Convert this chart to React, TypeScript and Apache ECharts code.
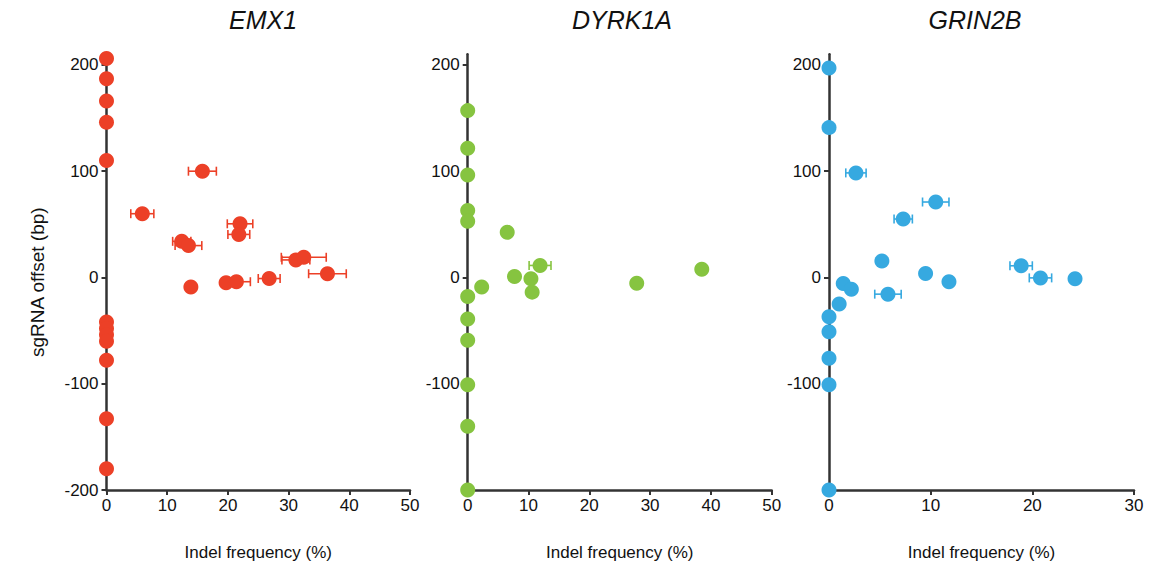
import React, { useEffect, useRef } from "react";
import * as echarts from "echarts";

// [indel frequency %, sgRNA offset bp, error (±%)]
const emx1Data: number[][] = [
  [0, 206, 0], [0, 187, 0], [0, 166, 0], [0, 146, 0], [0, 110, 0],
  [0, -42, 0], [0, -48, 0], [0, -54, 0], [0, -60, 0], [0, -78, 0], [0, -133, 0], [0, -180, 0],
  [15.8, 100, 2.3], [5.9, 60, 1.9], [12.4, 34, 1.5], [13.5, 30, 2.2],
  [22, 50.5, 2.1], [21.8, 40.5, 1.8], [13.9, -9, 0], [19.7, -5, 0],
  [21.4, -4, 2.3], [26.8, -1, 1.8], [31.2, 16.5, 2.3], [32.5, 19, 3.7], [36.4, 3.5, 3.1],
];
const dyrk1aData: number[][] = [
  [0, 157, 0], [0, 121.5, 0], [0, 96.5, 0], [0, 63, 0], [0, 53, 0],
  [0, -18, 0], [0, -39, 0], [0, -59, 0], [0, -101, 0], [0, -140, 0], [0, -200, 0],
  [6.5, 42.6, 0], [7.7, 1, 0], [10.4, -1.2, 0], [10.6, -13.8, 0], [11.9, 11.3, 1.8],
  [2.3, -9, 0], [27.8, -5.4, 0], [38.5, 7.8, 0],
];
const grin2bData: number[][] = [
  [0, 197, 0], [0, 141, 0], [0, -37, 0], [0, -51, 0], [0, -76, 0], [0, -101, 0], [0, -200, 0],
  [2.65, 98.4, 1.0], [10.5, 71, 1.3], [7.3, 55, 0.9], [5.2, 15.6, 0], [9.5, 3.8, 0],
  [11.8, -4, 0], [18.9, 11, 1.1], [20.8, -0.4, 1.1], [24.2, -1.3, 0], [1.4, -5.6, 0],
  [2.2, -11, 0], [5.8, -15.7, 1.3], [1.0, -25, 0],
];

const panelTitles = ["EMX1", "DYRK1A", "GRIN2B"];
const panelColors = ["#EC4027", "#86C440", "#36A9E0"];
const xMaxes = [50, 50, 30];
const yTickValues = [-200, -100, 0, 100, 200];
const yLabelValuesFirst = [-200, -100, 0, 100, 200];
const yLabelValuesOther = [-100, 0, 100, 200];
const xAxisName = "Indel frequency (%)";
const yAxisName = "sgRNA offset (bp)";

const FONT = "Liberation Sans, Arial, Helvetica, sans-serif";

export default function App() {
  const ref = useRef<HTMLDivElement>(null);
  useEffect(() => {
    if (!ref.current) return;
    const chart = echarts.init(ref.current, null, { renderer: "svg" });
    const datasets = [emx1Data, dyrk1aData, grin2bData];
    const grids = [
      { left: 106.5, width: 303.5 },
      { left: 467.7, width: 304 },
      { left: 829, width: 305 },
    ];
    const titleCenters = [258, 617, 970];
    const axisLineStyle = { color: "#333", width: 2.5 };

    const option: any = {
      animation: false,
      backgroundColor: "#fff",
      textStyle: { fontFamily: FONT },
      title: panelTitles.map((t, i) => ({
        text: t,
        left: titleCenters[i],
        top: 2,
        textAlign: "center",
        textStyle: {
          fontFamily: FONT,
          fontStyle: "italic",
          fontWeight: "normal",
          fontSize: 25,
          color: "#111",
        },
      })),
      grid: grids.map((g) => ({ left: g.left, width: g.width, top: 54.3, height: 435.7, containLabel: false })),
      xAxis: grids.map((_, i) => ({
        type: "value",
        gridIndex: i,
        min: 0,
        max: xMaxes[i],
        interval: 10,
        name: xAxisName,
        nameLocation: "middle",
        nameGap: 54,
        nameTextStyle: { fontFamily: FONT, fontSize: 17, color: "#111" },
        axisLine: { show: true, onZero: false, lineStyle: axisLineStyle },
        axisTick: { show: true, length: 5, lineStyle: { color: "#333", width: 2 } },
        axisLabel: { fontFamily: FONT, fontSize: 17, color: "#111", margin: 7 },
        splitLine: { show: false },
      })),
      yAxis: grids.map((_, i) => ({
        type: "value",
        gridIndex: i,
        min: -200,
        max: 210,
        name: i === 0 ? yAxisName : "",
        nameLocation: "middle",
        nameGap: 60,
        nameTextStyle: { fontFamily: FONT, fontSize: 19, color: "#111", padding: [0, 20, 0, 0] },
        axisLine: { show: true, onZero: false, lineStyle: axisLineStyle },
        axisTick: { show: true, length: 5, customValues: yTickValues, lineStyle: { color: "#333", width: 2 } },
        axisLabel: {
          fontFamily: FONT,
          fontSize: 17,
          color: "#111",
          margin: 8,
          customValues: i === 0 ? yLabelValuesFirst : yLabelValuesOther,
        },
        splitLine: { show: false },
      })),
      series: [] as any[],
    };

    datasets.forEach((data, i) => {
      const color = panelColors[i];
      option.series.push({
        type: "custom",
        xAxisIndex: i,
        yAxisIndex: i,
        data: data,
        encode: { x: 0, y: 1 },
        z: 1,
        clip: false,
        renderItem: (params: any, api: any) => {
          const x = api.value(0);
          const y = api.value(1);
          const e = api.value(2);
          if (!e) return { type: "group", children: [] };
          const p1 = api.coord([x - e, y]);
          const p2 = api.coord([x + e, y]);
          const h = 4.5;
          const style = { stroke: color, lineWidth: 1.6, fill: null };
          return {
            type: "group",
            children: [
              { type: "line", shape: { x1: p1[0], y1: p1[1], x2: p2[0], y2: p2[1] }, style },
              { type: "line", shape: { x1: p1[0], y1: p1[1] - h, x2: p1[0], y2: p1[1] + h }, style },
              { type: "line", shape: { x1: p2[0], y1: p2[1] - h, x2: p2[0], y2: p2[1] + h }, style },
            ],
          };
        },
      });
      option.series.push({
        type: "scatter",
        xAxisIndex: i,
        yAxisIndex: i,
        data: data.map((d) => [d[0], d[1]]),
        symbol: "circle",
        symbolSize: 15,
        itemStyle: { color: color, opacity: 1 },
        clip: false,
        z: 3,
      });
    });

    chart.setOption(option);
    return () => chart.dispose();
  }, []);
  return (
    <div
      ref={ref}
      style={{ position: "fixed", left: 0, top: 0, width: 1159, height: 575, background: "#fff" }}
    />
  );
}
